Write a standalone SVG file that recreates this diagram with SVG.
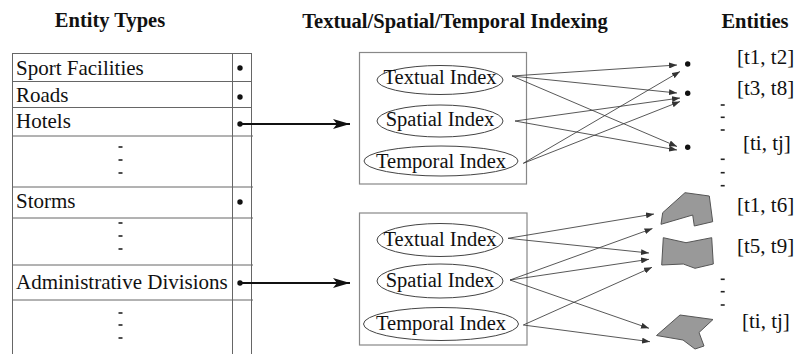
<svg xmlns="http://www.w3.org/2000/svg" width="796" height="354" viewBox="0 0 796 354">
<defs>
<style>
text{font-family:"Liberation Serif","Times New Roman",serif;fill:#111;}
.title{font-size:20.5px;font-weight:bold;}
.row{font-size:21px;}
.idx{font-size:20.5px;}
.lbl{font-size:21px;}
.tl{stroke:#666;stroke-width:1;fill:none;}
.box{stroke:#888;stroke-width:1.2;fill:none;}
.ell{stroke:#444;stroke-width:1;fill:none;}
.dot{fill:#111;}
.dash{stroke:#222;stroke-width:1.6;}
.thin{stroke:#3a3a3a;stroke-width:0.85;fill:none;marker-end:url(#ah);}
.big{stroke:#111;stroke-width:2;fill:none;marker-end:url(#bh);}
.shape{fill:#999;stroke:#555;stroke-width:1;}
</style>
<marker id="ah" markerUnits="userSpaceOnUse" markerWidth="8" markerHeight="6" refX="8" refY="3" orient="auto">
<path d="M0,0 L8,3 L0,6 z" fill="#333"/>
</marker>
<marker id="bh" markerUnits="userSpaceOnUse" markerWidth="17" markerHeight="10" refX="17" refY="5" orient="auto">
<path d="M0,0 L17,5 L0,10 L4,5 z" fill="#111"/>
</marker>
</defs>

<g id="titles">
<text class="title" x="110" y="27" text-anchor="middle">Entity Types</text>
<text class="title" x="455" y="28" text-anchor="middle">Textual/Spatial/Temporal Indexing</text>
<text class="title" x="755" y="28" text-anchor="middle">Entities</text>
</g>

<g id="entity-types-table">
<line class="tl" x1="12.5" y1="53.5" x2="12.5" y2="354"/>
<line class="tl" x1="232.5" y1="53.5" x2="232.5" y2="354"/>
<line class="tl" x1="251.5" y1="53.5" x2="251.5" y2="354"/>
<line class="tl" x1="12" y1="53.5" x2="252" y2="53.5"/>
<line class="tl" x1="12" y1="81.5" x2="252" y2="81.5"/>
<line class="tl" x1="12" y1="107.5" x2="252" y2="107.5"/>
<line class="tl" x1="12" y1="136" x2="253" y2="136"/>
<line class="tl" x1="12" y1="187" x2="253" y2="187"/>
<line class="tl" x1="12" y1="218" x2="253" y2="218"/>
<line class="tl" x1="12" y1="265" x2="253" y2="265"/>
<line class="tl" x1="12" y1="300" x2="253" y2="300"/>
</g>

<g id="row-sport-facilities">
<text class="row" x="16" y="75">Sport Facilities</text>
<circle class="dot" cx="240" cy="68" r="2.7"/>
</g>
<g id="row-roads">
<text class="row" x="16" y="102">Roads</text>
<circle class="dot" cx="240" cy="97" r="2.7"/>
</g>
<g id="row-hotels">
<text class="row" x="16" y="128">Hotels</text>
<circle class="dot" cx="240" cy="124" r="2.7"/>
</g>
<g id="row-ellipsis-1">
<line class="dash" x1="118.5" y1="147" x2="122.5" y2="147"/>
<line class="dash" x1="118.5" y1="160" x2="122.5" y2="160"/>
<line class="dash" x1="118.5" y1="173" x2="122.5" y2="173"/>
</g>
<g id="row-storms">
<text class="row" x="16" y="208">Storms</text>
<circle class="dot" cx="240" cy="202" r="2.7"/>
</g>
<g id="row-ellipsis-2">
<line class="dash" x1="118.5" y1="223" x2="122.5" y2="223"/>
<line class="dash" x1="118.5" y1="236" x2="122.5" y2="236"/>
<line class="dash" x1="118.5" y1="249" x2="122.5" y2="249"/>
</g>
<g id="row-administrative-divisions">
<text class="row" x="16" y="289">Administrative Divisions</text>
<circle class="dot" cx="240" cy="283" r="2.7"/>
</g>
<g id="row-ellipsis-3">
<line class="dash" x1="118.5" y1="313" x2="122.5" y2="313"/>
<line class="dash" x1="118.5" y1="325" x2="122.5" y2="325"/>
<line class="dash" x1="118.5" y1="338" x2="122.5" y2="338"/>
</g>

<g id="index-box-top">
<rect class="box" x="359.5" y="52.5" width="167" height="131.5"/>
</g>
<g id="textual-index-top">
<ellipse class="ell" cx="440" cy="80" rx="63" ry="14.5"/>
<text class="idx" x="440" y="84" text-anchor="middle">Textual Index</text>
</g>
<g id="spatial-index-top">
<ellipse class="ell" cx="440" cy="121" rx="63" ry="16"/>
<text class="idx" x="440" y="126" text-anchor="middle">Spatial Index</text>
</g>
<g id="temporal-index-top">
<ellipse class="ell" cx="441" cy="161" rx="77" ry="15"/>
<text class="idx" x="441" y="168" text-anchor="middle">Temporal Index</text>
</g>

<g id="index-box-bottom">
<rect class="box" x="359.5" y="213" width="167.5" height="132"/>
</g>
<g id="textual-index-bottom">
<ellipse class="ell" cx="440" cy="240" rx="63" ry="16.5"/>
<text class="idx" x="440" y="246" text-anchor="middle">Textual Index</text>
</g>
<g id="spatial-index-bottom">
<ellipse class="ell" cx="440" cy="281" rx="63" ry="17"/>
<text class="idx" x="440" y="287" text-anchor="middle">Spatial Index</text>
</g>
<g id="temporal-index-bottom">
<ellipse class="ell" cx="441" cy="324" rx="77.5" ry="16.5"/>
<text class="idx" x="441" y="330" text-anchor="middle">Temporal Index</text>
</g>

<g id="entity-point-1">
<circle class="dot" cx="687.7" cy="64" r="2.7"/>
<text class="lbl" x="737" y="64">[t1, t2]</text>
</g>
<g id="entity-point-2">
<circle class="dot" cx="687.7" cy="93.3" r="2.7"/>
<text class="lbl" x="737" y="95">[t3, t8]</text>
</g>
<g id="entity-point-3">
<circle class="dot" cx="687.7" cy="147.3" r="2.7"/>
<text class="lbl" x="743" y="150">[ti, tj]</text>
</g>
<g id="entity-ellipsis-1">
<line class="dash" x1="720.7" y1="105" x2="724.7" y2="105"/>
<line class="dash" x1="720.7" y1="117.3" x2="724.7" y2="117.3"/>
<line class="dash" x1="720.7" y1="130" x2="724.7" y2="130"/>
<line class="dash" x1="720.7" y1="159.3" x2="724.7" y2="159.3"/>
<line class="dash" x1="720.7" y1="172.7" x2="724.7" y2="172.7"/>
<line class="dash" x1="720.7" y1="185.7" x2="724.7" y2="185.7"/>
</g>
<g id="entity-region-1">
<polygon class="shape" points="661,224.3 662.7,212.7 685,192.7 709.3,196 712.7,221.7 694.3,226 692.7,215"/>
<text class="lbl" x="737" y="212">[t1, t6]</text>
</g>
<g id="entity-region-2">
<polygon class="shape" points="663.3,237.7 686,242.7 711.7,237.7 713.3,264 695,268.3 683.3,264 661.7,265"/>
<text class="lbl" x="737" y="253">[t5, t9]</text>
</g>
<g id="entity-ellipsis-2">
<line class="dash" x1="720.7" y1="279.3" x2="724.7" y2="279.3"/>
<line class="dash" x1="720.7" y1="291.7" x2="724.7" y2="291.7"/>
<line class="dash" x1="720.7" y1="305" x2="724.7" y2="305"/>
</g>
<g id="entity-region-3">
<polygon class="shape" points="656.5,335.5 680,315 713,319.5 699,332.5 704,346 695,349 683,340"/>
<text class="lbl" x="742" y="328">[ti, tj]</text>
</g>

<g id="connectors">
<line class="big" x1="240" y1="124" x2="350" y2="124"/>
<line class="big" x1="240" y1="283" x2="350" y2="283"/>

<line class="thin" x1="512" y1="76" x2="677" y2="65"/>
<line class="thin" x1="512" y1="76" x2="677" y2="93"/>
<line class="thin" x1="512" y1="76" x2="677" y2="146.5"/>
<line class="thin" x1="515" y1="121" x2="680" y2="98"/>
<line class="thin" x1="515" y1="121" x2="677" y2="150"/>
<line class="thin" x1="523.3" y1="163.3" x2="680" y2="71.5"/>
<line class="thin" x1="523.3" y1="163.3" x2="680" y2="101.5"/>

<line class="thin" x1="508" y1="238.3" x2="654" y2="214"/>
<line class="thin" x1="508" y1="238.3" x2="649" y2="253"/>
<line class="thin" x1="510" y1="280" x2="652.5" y2="228.5"/>
<line class="thin" x1="510" y1="280" x2="649" y2="259.3"/>
<line class="thin" x1="510" y1="280" x2="649" y2="328.3"/>
<line class="thin" x1="523.3" y1="325" x2="652" y2="267.3"/>
<line class="thin" x1="523.3" y1="325" x2="650" y2="341.7"/>
</g>
</svg>
